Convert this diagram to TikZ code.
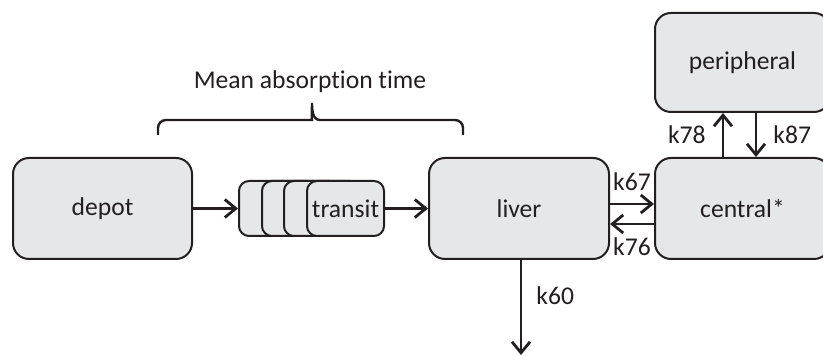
\documentclass[tikz,border=0pt]{standalone}
\usepackage{fontspec}
\setmainfont{Carlito}[Ligatures=NoCommon]
\usetikzlibrary{arrows.meta}
\definecolor{boxfill}{HTML}{E6E7E8}
\definecolor{ink}{HTML}{231F20}
\tikzset{
  comp/.style={draw=ink, fill=boxfill, line width=1pt, rounded corners=8pt,
    text=ink, font=\fontsize{12.8}{15}\selectfont, inner sep=0pt},
  flow/.style={draw=ink, line width=1.4pt,
    -{Straight Barb[length=5.5pt,width=9pt,line width=1.4pt]}},
  rate/.style={text=ink, font=\fontsize{12.8}{15}\selectfont, inner sep=1pt}
}
\begin{document}
\begin{tikzpicture}[x=0.5pt,y=-0.5pt]
  \useasboundingbox (0,0) rectangle (823,356);

  \node[comp, minimum width=89.5pt, minimum height=50.5pt] (depot) at (102.5,208.5) {depot};
  \foreach \i/\x in {1/238,2/261,3/283}
    \node[comp, rounded corners=5pt, anchor=west, minimum width=38.5pt, minimum height=27.5pt] (transit\i) at (\x,208.5) {};
  \node[comp, rounded corners=5pt, anchor=west, minimum width=38.5pt, minimum height=27.5pt] (transit4) at (306,208.5) {transit};
  \node[comp, minimum width=90pt, minimum height=50.5pt] (liver) at (519,208.5) {liver};
  \node[comp, minimum width=87.5pt, minimum height=50.5pt] (central) at (742.5,208.5) {central*};
  \node[comp, minimum width=87.5pt, minimum height=49.5pt] (peripheral) at (742.5,62.5) {peripheral};
  \coordinate (drain) at (521,355);

  \draw[flow] (depot.east) -- (transit1.west);
  \draw[flow] (transit4.east) -- (liver.west);
  \draw[flow] ([yshift=2.25pt]liver.east) -- node[rate, above=5pt] {k67} ([yshift=2.25pt]central.west);
  \draw[flow] ([yshift=-7.75pt]central.west) -- node[rate, below=5pt] {k76} ([yshift=-7.75pt]liver.east);
  \draw[flow] ([xshift=-9.75pt]central.north) -- node[rate, left=7pt] {k78} ([xshift=-9.75pt]peripheral.south);
  \draw[flow] ([xshift=6.75pt]peripheral.south) -- node[rate, right=7pt] {k87} ([xshift=6.75pt]central.north);
  \draw[flow] ([xshift=1pt]liver.south) -- node[rate, pos=0.375, right=6pt] {k60} (drain);

  \node[rate] (mat) at (310,82) {Mean absorption time};
  \draw[ink, line width=1.2pt] (158,135) [rounded corners=4pt] |- (304,120) [sharp corners]
    to[out=0,in=-90] (312,103) to[out=-90,in=180] (320,120) [rounded corners=4pt] -| (463,135);
\end{tikzpicture}
\end{document}
